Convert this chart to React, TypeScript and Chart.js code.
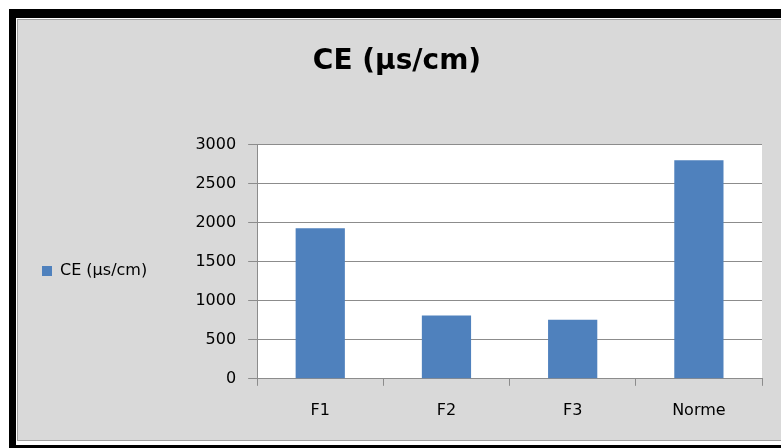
import React, { useEffect, useRef } from "react";
import { Chart, registerables } from "chart.js";

Chart.register(...registerables);

const categories = ["F1", "F2", "F3", "Norme"];
const ceValues = [1930, 810, 755, 2800];
const seriesLabel = "CE (µs/cm)";
const chartTitle = "CE (µs/cm)";
const yMin = 0;
const yMax = 3000;
const yStep = 500;

const FONT = "'DejaVu Sans', sans-serif";
const GRID = "#8c8c8c";

const plotBg = {
  id: "plotBg",
  beforeDraw(chart: any) {
    const { ctx, chartArea } = chart;
    ctx.save();
    ctx.fillStyle = "#ffffff";
    ctx.fillRect(chartArea.left, chartArea.top, chartArea.right - chartArea.left, chartArea.bottom - chartArea.top);
    ctx.restore();
  },
};

export default function App() {
  const ref = useRef<HTMLCanvasElement | null>(null);
  useEffect(() => {
    if (!ref.current) return;
    const chart = new Chart(ref.current, {
      type: "bar",
      data: {
        labels: categories,
        datasets: [
          {
            label: seriesLabel,
            data: ceValues,
            backgroundColor: "#4f81bd",
            borderColor: "#4f81bd",
            borderWidth: 0,
            barPercentage: 0.39,
            categoryPercentage: 1,
          },
        ],
      },
      options: {
        responsive: false,
        animation: false,
        layout: { padding: { left: 14, right: 19, top: 0, bottom: 6 } },
        plugins: {
          tooltip: { enabled: false },
          title: {
            display: true,
            text: chartTitle,
            color: "#000",
            font: { family: FONT, size: 28, weight: "bold" },
            padding: { top: 25, bottom: 66 },
          },
          legend: {
            position: "left",
            fullSize: false,
            title: { display: true, text: " ", font: { size: 14 }, padding: 1 },
            labels: {
              boxWidth: 10,
              boxHeight: 10,
              padding: 10,
              color: "#000",
              font: { family: FONT, size: 16 },
            },
          },
        },
        scales: {
          x: {
            grid: { drawOnChartArea: false, drawTicks: true, tickLength: 7, color: GRID, offset: true },
            border: { color: GRID },
            ticks: { color: "#000", font: { family: FONT, size: 16 }, padding: 15 },
          },
          y: {
            min: yMin,
            max: yMax,
            afterFit: (scale: any) => {
              scale.width = 100;
            },
            grid: { color: GRID, tickLength: 9 },
            border: { color: GRID },
            ticks: {
              stepSize: yStep,
              color: "#000",
              font: { family: FONT, size: 16 },
              padding: 12,
              callback: (v: any) => String(v),
            },
          },
        },
      },
      plugins: [plotBg],
    });
    return () => chart.destroy();
  }, []);

  return (
    <div style={{ position: "absolute", left: 0, top: 0, width: 781, height: 448, background: "#fff", overflow: "hidden" }}>
      <div style={{ position: "absolute", left: 9, top: 9, width: 800, height: 460, background: "#000" }} />
      <div style={{ position: "absolute", left: 16, top: 18, width: 800, height: 427, background: "#fff" }} />
      <div
        style={{
          position: "absolute",
          left: 17,
          top: 19,
          width: 800,
          height: 422,
          background: "#d9d9d9",
          border: "1px solid #a0a0a0",
          boxSizing: "border-box",
        }}
      />
      <canvas
        ref={ref}
        width={763}
        height={421}
        style={{ position: "absolute", left: 18, top: 20, width: 763, height: 421 }}
      />
    </div>
  );
}
